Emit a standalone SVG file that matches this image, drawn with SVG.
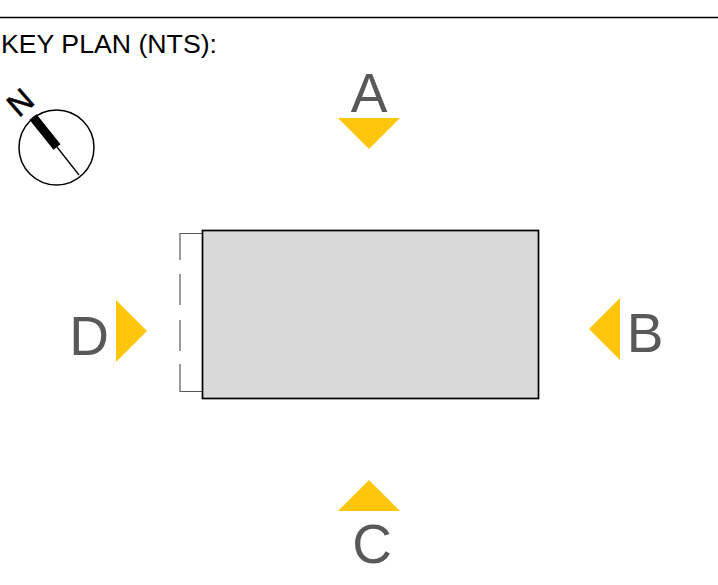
<svg xmlns="http://www.w3.org/2000/svg" width="718" height="585" viewBox="0 0 718 585">
<style>
text{font-family:"Liberation Sans",Arial,sans-serif}
.v{font-size:55px;fill:#595959;text-anchor:middle}
.t{fill:#ffc60b}
</style>
<rect width="718" height="585" fill="#fff"/>
<path d="M0 17.500H718" stroke="#000" stroke-width="1.300"/>
<text x="1" y="53" font-size="26.700" fill="#000">KEY PLAN (NTS):</text>
<g id="north">
<circle cx="56.500" cy="147.500" r="37.500" fill="#fff" stroke="#000" stroke-width="1.500"/>
<path d="M33 117L57 147" stroke="#000" stroke-width="9"/>
<path d="M57 147L79 175" stroke="#000" stroke-width="1.300"/>
<text transform="translate(20 102) rotate(-41)" y="11.500" text-anchor="middle" font-size="32" fill="#000" stroke="#000" stroke-width="0.500">N</text>
</g>
<g id="building">
<path d="M202 233.500H180V260M180 274V305M180 320V351M180 364V391.500H202" fill="none" stroke="#595959" stroke-width="1.200"/>
<rect x="202.500" y="230.500" width="336" height="168" fill="#d9d9d9" stroke="#000" stroke-width="1.700"/>
</g>
<g id="view-a"><text class="v" x="369" y="111.500">A</text><path class="t" d="M338 118H400L369 149Z"/></g>
<g id="view-b"><text class="v" x="645" y="351.500">B</text><path class="t" d="M620 298V360L589 329Z"/></g>
<g id="view-c"><text class="v" x="372" y="562.500">C</text><path class="t" d="M338 511H400L369 480Z"/></g>
<g id="view-d"><text class="v" x="89" y="354.500">D</text><path class="t" d="M116 300V362L147 331Z"/></g>
</svg>
